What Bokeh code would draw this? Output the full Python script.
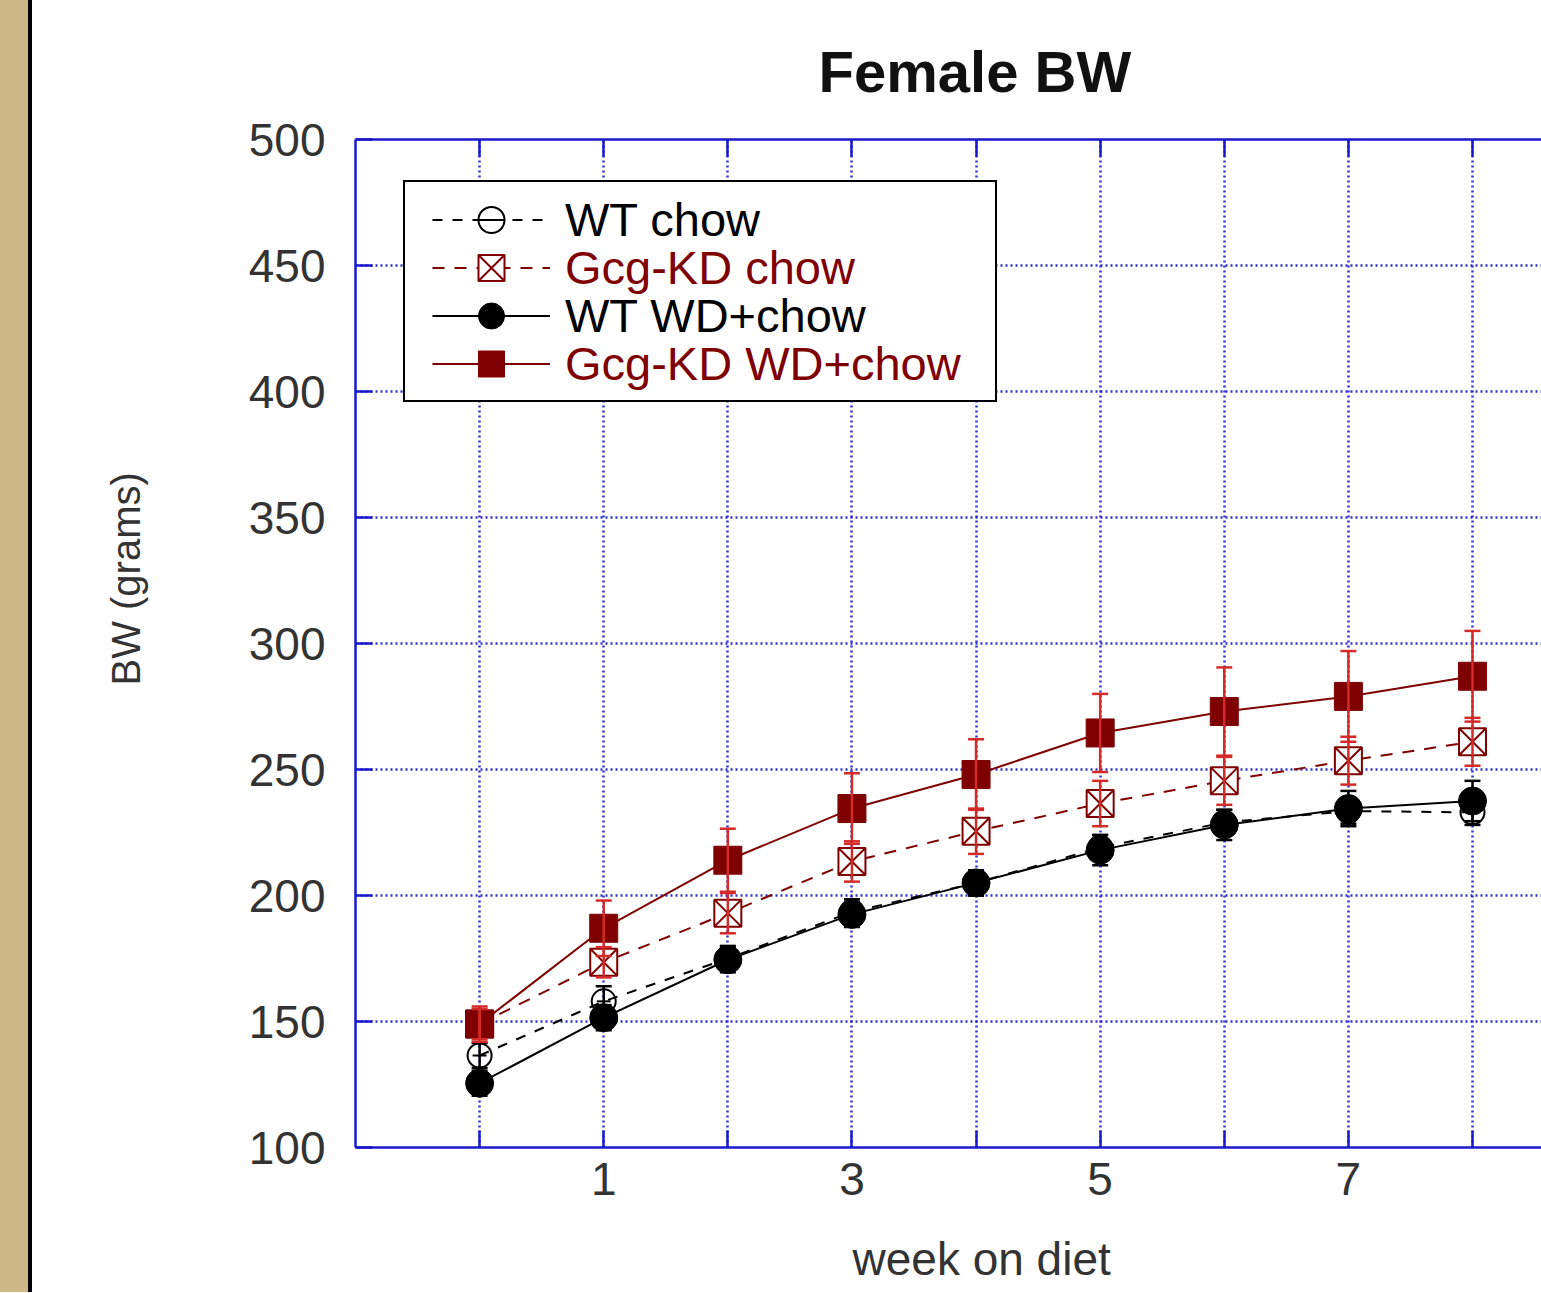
from bokeh.plotting import figure
from bokeh.models import (ColumnDataSource, Whisker, TeeHead, Legend, LegendItem,
                          FixedTicker, LinearAxis, Range1d, Title)
from bokeh.embed import file_html
from bokeh.resources import INLINE

# ---------------- data ----------------
WEEKS = [0, 1, 2, 3, 4, 5, 6, 7, 8]
WT_CHOW = [136.5, 158, 175, 193.5, 205, 219, 229, 233.5, 233]
WT_CHOW_SE = [5, 6, 5, 5, 5, 5, 5, 5, 5]
KD_CHOW = [149, 173.5, 193, 213.5, 225.5, 236.5, 245.5, 253.5, 261]
KD_CHOW_SE = [6, 6, 8, 8, 9, 9, 9.5, 9.5, 9.5]
WT_WD = [125.5, 151.5, 174.5, 192.5, 205, 218, 228, 234.5, 237.5]
WT_WD_SE = [5, 5, 5, 5, 5, 6, 6, 7, 8]
KD_WD = [149, 187, 214, 234.5, 248, 264.5, 273, 279, 287]
KD_WD_SE = [7, 11, 12.5, 14, 14, 15.5, 17.5, 18, 18]

SERIES_NAMES = ["WT chow", "Gcg-KD chow", "WT WD+chow", "Gcg-KD WD+chow"]
X_TICKS = [0, 1, 2, 3, 4, 5, 6, 7, 8]
X_TICK_LABELS = ["", "1", "", "3", "", "5", "", "7", ""]
Y_TICKS = [100, 150, 200, 250, 300, 350, 400, 450, 500]
TITLE = "Female BW"
X_LABEL = "week on diet"
Y_LABEL = "BW (grams)"

# ---------------- style ----------------
MAROON = "#7f0000"
ERR_RED = "#d42a2a"
BLACK = "#000000"
BLUE = "#1a1acc"
TXT = "#333333"
FONT = "Liberation Sans"

p = figure(width=1541, height=1292, output_backend="svg", toolbar_location=None,
           x_range=Range1d(-1, 8.556), y_range=Range1d(100, 500),
           min_border_left=355, min_border_right=0, min_border_top=138,
           min_border_bottom=145, background_fill_color="white",
           border_fill_alpha=0, outline_line_color=None)
# tan page strip with black rule at the far left
p.styles = {"background": "linear-gradient(to right, #cfb888 0px, #cfb888 28px, "
                          "#000000 28px, #000000 32px, #ffffff 32px, #ffffff 100%)"}

p.title.text = TITLE
p.title.align = "left"
p.title.offset = 463
p.title.standoff = 72
p.title.text_font = FONT
p.title.text_font_size = "58px"
p.title.text_font_style = "bold"
p.title.text_color = "#111111"

# axes
for ax in (p.xaxis[0], p.yaxis[0]):
    ax.axis_line_color = BLUE
    ax.axis_line_width = 2.5
    ax.major_tick_line_color = BLUE
    ax.major_tick_line_width = 2.5
    ax.major_tick_in = 17
    ax.major_tick_out = 0
    ax.minor_tick_line_color = None
    ax.major_label_text_font = FONT
    ax.major_label_text_color = TXT
    ax.major_label_text_font_size = "46px"

p.xaxis[0].ticker = FixedTicker(ticks=X_TICKS)
p.xaxis[0].major_label_overrides = {t: l for t, l in zip(X_TICKS, X_TICK_LABELS)}
p.xaxis[0].major_label_standoff = 15
# invisible spacer label that pushes the x title down
p.xaxis[0].axis_label = " "
p.xaxis[0].axis_label_text_font_size = "1px"
p.xaxis[0].axis_label_standoff = 24

p.yaxis[0].ticker = FixedTicker(ticks=Y_TICKS)
p.yaxis[0].major_label_standoff = 30

# axis titles, placed off-centre as in the reference
xlab = Title(text=X_LABEL, align="left", offset=497, standoff=10,
             text_font=FONT, text_font_size="46px", text_font_style="normal",
             text_color=TXT)
p.add_layout(xlab, "below")
ylab = Title(text=Y_LABEL, align="left", offset=462, standoff=196,
             text_font=FONT, text_font_size="40px", text_font_style="normal",
             text_color=TXT)
p.add_layout(ylab, "left")

top = LinearAxis(ticker=FixedTicker(ticks=X_TICKS),
                 major_label_overrides={t: "" for t in X_TICKS},
                 major_label_text_font_size="0px", major_label_standoff=0,
                 axis_line_color=BLUE, axis_line_width=2.5,
                 major_tick_line_color=BLUE, major_tick_line_width=2.5,
                 major_tick_in=17, major_tick_out=0, minor_tick_line_color=None)
p.add_layout(top, "above")

# grid
p.xgrid.ticker = FixedTicker(ticks=X_TICKS)
p.ygrid.ticker = FixedTicker(ticks=Y_TICKS)
for g in (p.xgrid[0], p.ygrid[0]):
    g.grid_line_color = BLUE
    g.grid_line_width = 2.5
    g.grid_line_dash = "2 3"
    g.grid_line_alpha = 0.9


def add_err(vals, se, color):
    src = ColumnDataSource(dict(x=WEEKS,
                                upper=[v + e for v, e in zip(vals, se)],
                                lower=[v - e for v, e in zip(vals, se)]))
    w = Whisker(source=src, base="x", upper="upper", lower="lower",
                line_color=color, line_width=2.5, level="glyph",
                upper_head=TeeHead(size=16, line_color=color, line_width=2.5),
                lower_head=TeeHead(size=16, line_color=color, line_width=2.5))
    p.add_layout(w)


# WT chow
add_err(WT_CHOW, WT_CHOW_SE, BLACK)
l1 = p.line(WEEKS, WT_CHOW, line_color=BLACK, line_width=2, line_dash="10 10")
m1a = p.scatter(WEEKS, WT_CHOW, marker="circle", size=24, line_color=BLACK,
                line_width=2, fill_alpha=0)
m1b = p.scatter(WEEKS, WT_CHOW, marker="dash", size=14, line_color=BLACK, line_width=2)

# Gcg-KD chow
add_err(KD_CHOW, KD_CHOW_SE, ERR_RED)
l2 = p.line(WEEKS, KD_CHOW, line_color=MAROON, line_width=2, line_dash="12 10")
m2 = p.scatter(WEEKS, KD_CHOW, marker="square_x", size=27, line_color=MAROON,
               line_width=2, fill_color="white")

# WT WD+chow
add_err(WT_WD, WT_WD_SE, BLACK)
l3 = p.line(WEEKS, WT_WD, line_color=BLACK, line_width=2)
m3 = p.scatter(WEEKS, WT_WD, marker="circle", size=28, line_color=BLACK,
               fill_color=BLACK)

# Gcg-KD WD+chow
add_err(KD_WD, KD_WD_SE, ERR_RED)
l4 = p.line(WEEKS, KD_WD, line_color=MAROON, line_width=2)
m4 = p.scatter(WEEKS, KD_WD, marker="square", size=28, line_color=MAROON,
               fill_color=MAROON)

# invisible renderer used only to size the legend frame
dummy = p.line(WEEKS, WT_WD, line_alpha=0)

frame_legend = Legend(
    items=[LegendItem(label=" ", renderers=[dummy]) for _ in SERIES_NAMES],
    location=(48, 745), padding=13, spacing=0, margin=0,
    glyph_height=48, glyph_width=118, label_height=48, label_width=431,
    label_standoff=15, label_text_font=FONT, label_text_font_size="10px",
    border_line_color=BLACK, border_line_width=2.5, border_line_alpha=1,
    background_fill_color="white", background_fill_alpha=1)
p.add_layout(frame_legend)

row_items = [
    (SERIES_NAMES[0], [l1, m1a, m1b], BLACK),
    (SERIES_NAMES[1], [l2, m2], MAROON),
    (SERIES_NAMES[2], [l3, m3], BLACK),
    (SERIES_NAMES[3], [l4, m4], MAROON),
]
for i, (name, rends, col) in enumerate(row_items):
    lg = Legend(items=[LegendItem(label=name, renderers=rends)],
                location=(77, 895 - 48 * i), padding=0, spacing=0, margin=0,
                glyph_height=65, glyph_width=118, label_height=65,
                label_standoff=15, label_text_font=FONT,
                label_text_font_size="47px", label_text_color=col,
                border_line_color=None, background_fill_alpha=0)
    p.add_layout(lg)

open("out.html", "w").write(file_html(p, INLINE))
